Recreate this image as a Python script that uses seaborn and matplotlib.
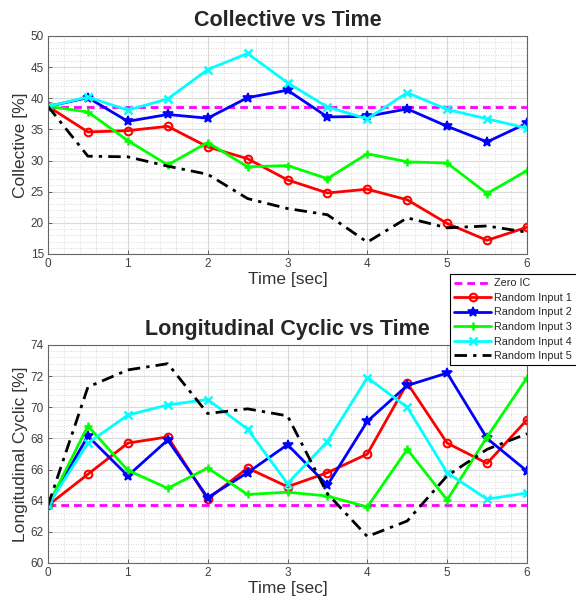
import numpy as np
import pandas as pd
import matplotlib
matplotlib.use("Agg")
import matplotlib.pyplot as plt
import seaborn as sns
from matplotlib.ticker import MultipleLocator

time_sec = [0, 0.5, 1, 1.5, 2, 2.5, 3, 3.5, 4, 4.5, 5, 5.5, 6]
series_names = ["Random Input 1", "Random Input 2", "Random Input 3", "Random Input 4", "Random Input 5"]

zero_ic_collective = 38.6
coll_r1 = [38.7, 34.6, 34.8, 35.5, 32.2, 30.3, 26.9, 24.8, 25.4, 23.7, 19.9, 17.2, 19.3]
coll_r2 = [38.7, 40.1, 36.3, 37.4, 36.8, 40.1, 41.3, 37.0, 37.1, 38.3, 35.5, 33.0, 36.0]
coll_r3 = [38.7, 37.8, 33.2, 29.3, 32.9, 29.0, 29.2, 27.1, 31.1, 29.8, 29.6, 24.7, 28.4]
coll_r4 = [38.7, 40.2, 38.1, 39.9, 44.6, 47.2, 42.5, 38.6, 36.7, 40.9, 38.2, 36.7, 35.2]
coll_r5 = [38.7, 30.7, 30.6, 29.1, 27.8, 23.9, 22.3, 21.3, 16.9, 20.8, 19.2, 19.5, 18.5]

zero_ic_long = 63.7
long_r1 = [63.7, 65.7, 67.7, 68.1, 64.1, 66.1, 64.9, 65.8, 67.0, 71.55, 67.7, 66.4, 69.2]
long_r2 = [63.7, 68.15, 65.6, 67.9, 64.2, 65.8, 67.6, 65.0, 69.1, 71.4, 72.2, 68.0, 65.9]
long_r3 = [63.7, 68.8, 65.95, 64.8, 66.1, 64.4, 64.55, 64.3, 63.6, 67.3, 64.05, 68.1, 71.9]
long_r4 = [63.7, 67.7, 69.5, 70.15, 70.5, 68.6, 65.1, 67.8, 71.9, 70.0, 65.8, 64.1, 64.5]
long_r5 = [63.7, 71.3, 72.4, 72.8, 69.6, 69.9, 69.45, 64.45, 61.7, 62.7, 65.6, 67.3, 68.3]

sns.set_theme(style="white")
plt.rcParams["font.family"] = ["Liberation Sans", "DejaVu Sans"]

colors = [(1, 0, 0), (0, 0, 1), (0, 1, 0), (0, 1, 1), (0, 0, 0)]
styles = [
    dict(marker="o", ls="-", mfc="none", mew=1.5, ms=5.5),
    dict(marker="*", ls="-", mfc="fill", mew=1.2, ms=7.5),
    dict(marker="+", ls="-", mfc="fill", mew=1.8, ms=6),
    dict(marker="x", ls="-", mfc="fill", mew=1.8, ms=5.5),
    dict(marker="None", ls="-.", mfc="fill", mew=0, ms=0),
]

fig = plt.figure(figsize=(5.76, 6.10), dpi=100)
ax1 = fig.add_axes([48 / 576, 1 - 254 / 610, 479 / 576, 218 / 610])
ax2 = fig.add_axes([48 / 576, 1 - 563 / 610, 479 / 576, 218 / 610])

def draw(ax, zero, data, ylim, ymajor, yminor, title, ylabel):
    zdf = pd.DataFrame({"t": time_sec, "v": [zero] * len(time_sec)})
    sns.lineplot(data=zdf, x="t", y="v", ax=ax, color=(1, 0, 1), lw=2,
                 label="Zero IC", legend=False)
    ln = ax.lines[-1]
    ln.set_linestyle((0, (2.8, 1.8)))
    for name, vals, st, c in zip(series_names, data, styles, colors):
        df = pd.DataFrame({"t": time_sec, "v": vals})
        sns.lineplot(data=df, x="t", y="v", ax=ax, lw=2, color=c, label=name,
                     legend=False)
        ln = ax.lines[-1]
        if st["ls"] == "-.":
            ln.set_linestyle((0, (4.5, 2.2, 1.2, 2.2)))
        else:
            ln.set_linestyle("-")
        ln.set_marker(st["marker"])
        ln.set_markersize(st["ms"])
        ln.set_markeredgewidth(st["mew"])
        ln.set_markeredgecolor(c)
        ln.set_markerfacecolor("none" if st["mfc"] == "none" else c)
    ax.set_xlim(0, 6)
    ax.set_ylim(*ylim)
    ax.xaxis.set_major_locator(MultipleLocator(1))
    ax.xaxis.set_minor_locator(MultipleLocator(0.2))
    ax.yaxis.set_major_locator(MultipleLocator(ymajor))
    ax.yaxis.set_minor_locator(MultipleLocator(yminor))
    ax.grid(True, which="major", color=(0.85, 0.85, 0.85), lw=0.8, linestyle="-")
    ax.grid(True, which="minor", color=(0.8, 0.8, 0.8), lw=0.6, linestyle=(0, (1, 2)))
    ax.set_axisbelow(True)
    ax.tick_params(which="both", direction="in", colors=(0.3, 0.3, 0.3),
                   labelcolor=(0.25, 0.25, 0.25), labelsize=8.5, length=3, width=0.6)
    ax.tick_params(which="minor", length=0)
    ax.tick_params(axis="both", which="major", pad=3, length=3,
                   bottom=True, left=True)
    for sp in ax.spines.values():
        sp.set_color((0.4, 0.4, 0.4))
        sp.set_linewidth(0.8)
    ax.set_title(title, fontsize=15.5, fontweight="bold", pad=7)
    ax.set_xlabel("Time [sec]", fontsize=12.5, color=(0.2, 0.2, 0.2), labelpad=1)
    ax.set_ylabel(ylabel, fontsize=12.5, color=(0.2, 0.2, 0.2), labelpad=2)

draw(ax1, zero_ic_collective, [coll_r1, coll_r2, coll_r3, coll_r4, coll_r5],
     (15, 50), 5, 1, "Collective vs Time", "Collective [%]")
draw(ax2, zero_ic_long, [long_r1, long_r2, long_r3, long_r4, long_r5],
     (60, 74), 2, 0.4, "Longitudinal Cyclic vs Time", "Longitudinal Cyclic [%]")

handles, labels = ax2.get_legend_handles_labels()
leg = fig.legend(handles, labels, loc="upper left",
                 bbox_to_anchor=(450 / 576, 1 - 274 / 610),
                 fontsize=7.8, frameon=True, fancybox=False, framealpha=1,
                 edgecolor="black", handlelength=3.4, labelspacing=0.42,
                 borderpad=0.4, handletextpad=0.3, borderaxespad=0)
leg.get_frame().set_linewidth(0.8)
leg.set_zorder(10)

fig.savefig("out.png", dpi=100)
